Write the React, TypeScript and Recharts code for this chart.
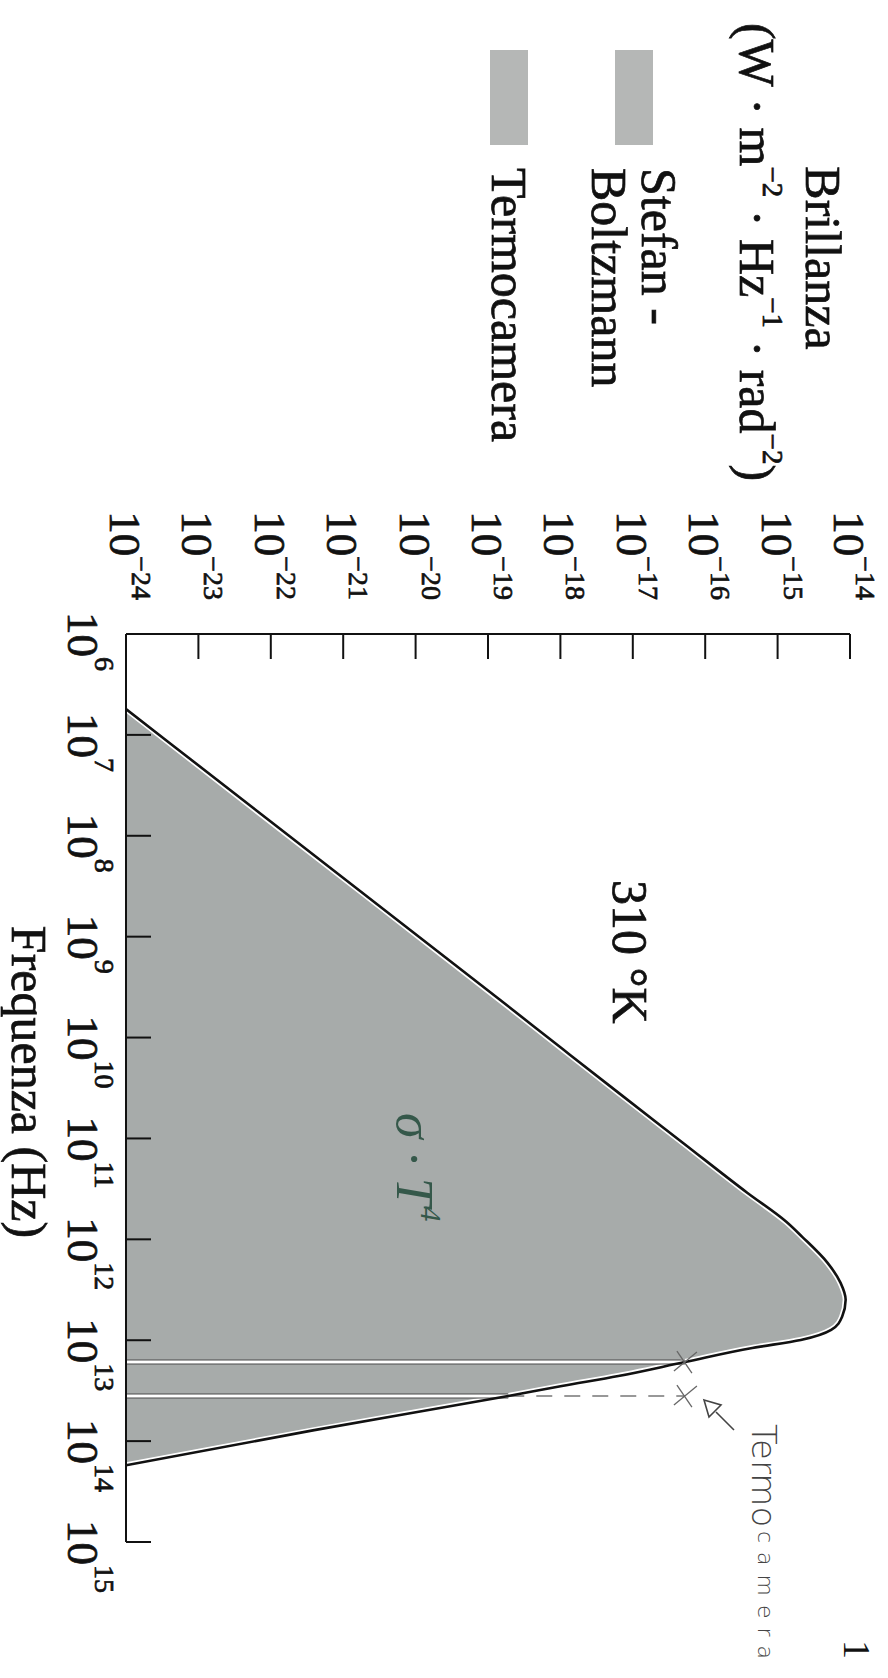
import { ComposedChart, Area, Line, XAxis, YAxis, Legend, ReferenceLine, ReferenceDot } from "recharts";

// exponents: log10(frequency, Hz) and log10(brillanza)
const freqExp = [6.744, 8.005, 9.623, 10.119, 10.546, 11.042, 11.538, 11.826, 11.975, 12.233, 12.432, 12.6, 12.769, 12.898, 12.998, 13.077, 13.216, 13.355, 13.454, 13.553, 13.891, 14.239];
const brightExp = [-24, -21.74, -18.84, -17.96, -17.2, -16.31, -15.42, -14.88, -14.66, -14.31, -14.13, -14.06, -14.11, -14.26, -14.68, -15.35, -16.28, -17.2, -17.98, -18.72, -21.4, -24];

// termocamera band (exponent of frequency)
const bandLo = 13.216;
const bandHi = 13.553;

const freqTicks = [6, 7, 8, 9, 10, 11, 12, 13, 14, 15];
const brightTicks = [-24, -23, -22, -21, -20, -19, -18, -17, -16, -15, -14];
const freqDomain = [6, 15];
const brightDomain = [-24, -14];

const data = freqExp.map((nu, i) => ({
  nu,
  sb: brightExp[i],
  termo: nu >= bandLo && nu <= bandHi ? brightExp[i] : null,
}));

const topAt = (nu: number) => brightExp[freqExp.indexOf(nu)];

const serif = "'Liberation Serif', 'Times New Roman', serif";
const ink = "#111";
const fillGray = "#a7abaa";
const swatchGray = "#b5b7b6";
// the scanned print is heavier than the plain font
const heavy = { stroke: ink, strokeWidth: 0.7 };

const minus = (v: number) => (v < 0 ? "\u2212" + Math.abs(v) : String(v));

const FreqTick = ({ x, y, payload }: any) => (
  <g>
    <line x1={x} y1={y} x2={x} y2={y - 25} stroke={ink} strokeWidth={2} />
    <text x={x - 22} y={y + 58} fontSize={45} fontFamily={serif} fill={ink} {...heavy}>
      10<tspan dy={-27} fontSize={28}>{payload.value}</tspan>
    </text>
  </g>
);

const BrightTick = ({ x, y, payload }: any) => (
  <g>
    <line x1={x} y1={y} x2={x + 25} y2={y} stroke={ink} strokeWidth={2} />
    <text x={x - 34} y={y + 16} textAnchor="end" fontSize={45} fontFamily={serif} fill={ink} {...heavy}>
      10<tspan dy={-22} fontSize={28}>{minus(payload.value)}</tspan>
    </text>
  </g>
);

const BrightTitle = ({ viewBox }: any) => {
  const cx = viewBox.x - 256;
  const sup = { fontSize: 29 };
  return (
    <g fontFamily={serif} fill={ink} fontSize={50} {...heavy}>
      <text x={cx} y={viewBox.y + 44} textAnchor="middle">Brillanza</text>
      <text x={cx - 6} y={viewBox.y + 110} textAnchor="middle">
        {"(W · m"}
        <tspan dy={-23} {...sup}>{"\u22122"}</tspan>
        <tspan dy={23}>{" · Hz"}</tspan>
        <tspan dy={-23} {...sup}>{"\u22121"}</tspan>
        <tspan dy={23}>{" · rad"}</tspan>
        <tspan dy={-23} {...sup}>{"\u22122"}</tspan>
        <tspan dy={23}>{")"}</tspan>
      </text>
    </g>
  );
};

const FreqTitle = ({ viewBox }: any) => (
  <text x={viewBox.x + viewBox.width / 2 - 6} y={viewBox.y + 114} textAnchor="middle" fontSize={50} fontFamily={serif} fill={ink} {...heavy}>
    Frequenza (Hz)
  </text>
);

const LegendBox = ({ payload }: any) => (
  <div style={{ fontFamily: serif, fontSize: 50, lineHeight: "50px", color: ink, WebkitTextStroke: "0.7px #111" }}>
    {(payload || [])
      .filter((p: any) => p.type !== "none")
      .map((p: any, i: number) => (
        <div key={i} style={{ display: "flex", alignItems: "center", marginBottom: i === 0 ? 50 : 0 }}>
          <div style={{ width: 95, height: 38, background: swatchGray, marginRight: 23, flexShrink: 0 }} />
          <div style={{ whiteSpace: "pre-line" }}>{p.value}</div>
        </div>
      ))}
  </div>
);

const Cross = ({ cx, cy }: any) => (
  <g stroke="#666" strokeWidth={1.3}>
    <line x1={cx - 10} y1={cy - 12} x2={cx + 9} y2={cy + 11} />
    <line x1={cx - 11} y1={cy + 8} x2={cx + 11} y2={cy - 7} />
  </g>
);

const Chart = () => (
  <ComposedChart
    width={1678}
    height={888}
    data={data}
    margin={{ top: 38, right: 136, bottom: 26, left: 514 }}
    style={{ fontFamily: serif }}
  >
    <XAxis
      type="number"
      dataKey="nu"
      domain={freqDomain}
      ticks={freqTicks}
      interval={0}
      allowDataOverflow
      height={100}
      tickSize={0}
      tickMargin={0}
      tickLine={false}
      axisLine={{ stroke: ink, strokeWidth: 2 }}
      tick={<FreqTick />}
      label={{ content: (p: any) => <FreqTitle viewBox={p.viewBox} /> }}
    />
    <YAxis
      type="number"
      domain={brightDomain}
      ticks={brightTicks}
      interval={0}
      allowDataOverflow
      width={120}
      tickSize={0}
      tickMargin={0}
      tickLine={false}
      axisLine={{ stroke: ink, strokeWidth: 2 }}
      tick={<BrightTick />}
      label={{ content: (p: any) => <BrightTitle viewBox={p.viewBox} /> }}
    />
    <Legend
      layout="vertical"
      align="center"
      verticalAlign="middle"
      content={<LegendBox />}
      wrapperStyle={{ left: 50, top: 204, width: "auto", height: "auto" }}
    />
    <Area
      name={"Stefan -\nBoltzmann"}
      dataKey="sb"
      type="monotone"
      baseValue="dataMin"
      fill={fillGray}
      fillOpacity={1}
      stroke="#fff"
      strokeWidth={6}
      isAnimationActive={false}
    />
    <Area
      name="Termocamera"
      dataKey="termo"
      type="monotone"
      baseValue="dataMin"
      fill={fillGray}
      fillOpacity={1}
      stroke="#fff"
      strokeWidth={6}
      isAnimationActive={false}
    />
    {[bandLo, bandHi].map((b) => (
      <ReferenceLine
        key={"d" + b}
        segment={[{ x: b, y: brightDomain[0] }, { x: b, y: topAt(b) }]}
        stroke="#4a4a4a"
        strokeWidth={5}
      />
    ))}
    {[bandLo, bandHi].map((b) => (
      <ReferenceLine
        key={"w" + b}
        segment={[{ x: b, y: brightDomain[0] }, { x: b, y: topAt(b) }]}
        stroke="#fff"
        strokeWidth={3}
      />
    ))}
    <ReferenceLine
      segment={[{ x: bandHi, y: topAt(bandHi) }, { x: bandHi, y: topAt(bandLo) }]}
      stroke="#777"
      strokeWidth={1.3}
      strokeDasharray="16 12"
    />
    <ReferenceDot x={bandLo} y={topAt(bandLo)} r={10} shape={<Cross />} />
    <ReferenceDot x={bandHi} y={topAt(bandLo)} r={10} shape={<Cross />} />
    <Line
      dataKey="sb"
      type="monotone"
      stroke={ink}
      strokeWidth={2.6}
      dot={false}
      legendType="none"
      isAnimationActive={false}
    />
  </ComposedChart>
);

const Notes = () => (
  <svg width={1678} height={888} style={{ position: "absolute", left: 0, top: 0, pointerEvents: "none" }}>
    <text x={880} y={275} fontSize={50} fontFamily={serif} fill={ink} {...heavy}>310 °K</text>
    <text x={1113} y={491} fontSize={52} fontFamily={serif} fontStyle="italic" fill="#35584a">
      σ · T<tspan dy={-24} fontSize={30}>4</tspan>
    </text>
    <path d="M1430 154 L1412 172 M1400 184 L1405 167 L1417 179 Z" stroke="#444" strokeWidth={1.6} fill="none" />
    <text x={1424} y={136} fontSize={34} fontFamily="'DejaVu Sans', sans-serif" fontWeight={200} fill="#444">Termo</text>
    <text x={1531} y={130} fontSize={22} letterSpacing={9} fontFamily="'DejaVu Sans', sans-serif" fontWeight={200} fill="#444">camera</text>
    <text x={1640} y={44} fontSize={38} fontFamily={serif} fill={ink}>1</text>
  </svg>
);

export default function App() {
  return (
    <div style={{ position: "absolute", left: 0, top: 0, width: 888, height: 1678, overflow: "hidden", background: "#fff" }}>
      <div
        style={{
          position: "absolute",
          left: 0,
          top: 0,
          width: 1678,
          height: 888,
          transformOrigin: "0 0",
          transform: "translate(888px, 0) rotate(90deg)",
        }}
      >
        <Chart />
        <Notes />
      </div>
    </div>
  );
}
